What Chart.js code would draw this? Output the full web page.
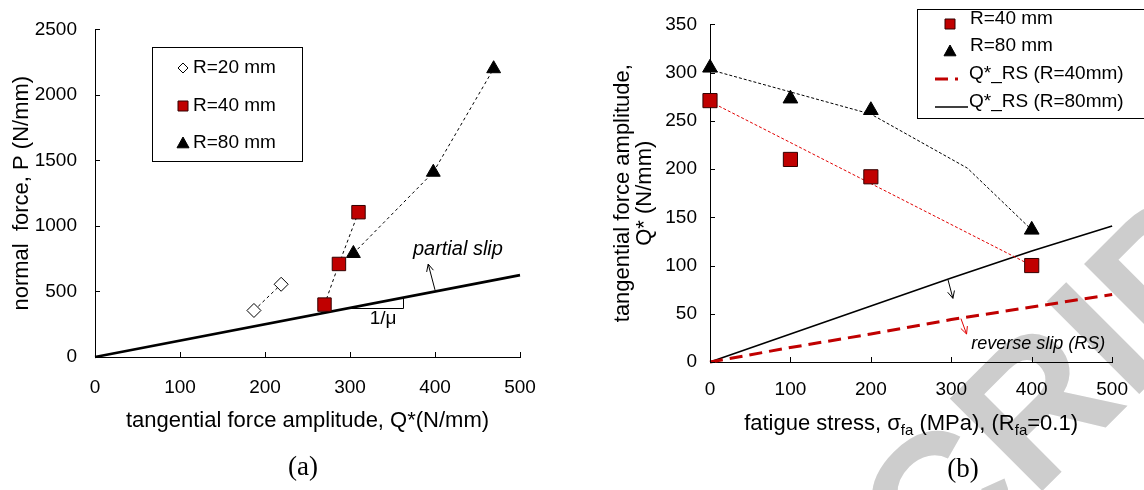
<!DOCTYPE html>
<html>
<head>
<meta charset="utf-8">
<script src="https://cdn.jsdelivr.net/npm/chart.js@4.4.0/dist/chart.umd.min.js"></script>
<style>
html, body { margin: 0; padding: 0; background: #fff; }
#wrap { position: relative; width: 1144px; height: 490px; overflow: hidden; }
#wm { position: absolute; left: 1025px; top: 395px; width: 0; height: 0; }
#wm span { position: absolute; left: 0; top: 0; white-space: nowrap; line-height: 1;
  font: bold 190px 'Liberation Sans', Arial, sans-serif; color: #cdcdcd;
  transform-origin: 0 0; transform: rotate(-45deg) translate(-10.527em, -0.5em); }
canvas { position: absolute; top: 0; }
#ca { left: 0; }
#cb { left: 580px; }
</style>
</head>
<body>
<div id="wrap">
  <div id="wm"><span>ACCEPTED MANUSCRIPT</span></div>
  <canvas id="ca" width="560" height="490"></canvas>
  <canvas id="cb" width="564" height="490"></canvas>
</div>
<script>
Chart.defaults.font.family = "'Liberation Sans', Arial, sans-serif";
Chart.defaults.font.size = 19;
Chart.defaults.color = '#000';

// (a) normal force vs tangential force amplitude
const qR20 = [187, 219];
const pR20 = [355, 555];
const qR40 = [270, 287, 310];
const pR40 = [400, 710, 1105];
const qR80 = [304, 398, 469];
const pR80 = [790, 1410, 2200];
const qSlip = [0, 500];
const pSlip = [0, 625];
const xTicksA = [0, 100, 200, 300, 400, 500];
const yTicksA = [0, 500, 1000, 1500, 2000, 2500];

// (b) tangential force amplitude vs fatigue stress
const stressB = [0, 100, 200, 400];
const qB40 = [271, 210, 192, 100];
const qB80 = [305, 273, 261, 137];
const trend40X = [0, 400];
const trend40Y = [270, 100];
const trend80X = [0, 100, 200, 320, 400];
const trend80Y = [303, 280, 257, 201, 137];
const rsX = [0, 100, 200, 300, 400, 500];
const rs40 = [0, 15, 29, 44, 57, 70];
const rs80 = [0, 29, 58, 87, 115, 141];
const xTicksB = [0, 100, 200, 300, 400, 500];
const yTicksB = [0, 50, 100, 150, 200, 250, 300, 350];

const RED = '#c00000';
const FONT = "'Liberation Sans', Arial, sans-serif";
const pts = (xs, ys) => xs.map((x, i) => ({x: x, y: ys[i]}));
const plain = v => String(v);

function innerTicks(ctx, x, y) {
  ctx.save();
  ctx.strokeStyle = '#000';
  ctx.lineWidth = 1;
  ctx.beginPath();
  x.ticks.forEach(t => {
    const p = Math.round(x.getPixelForValue(t.value)) + 0.5;
    ctx.moveTo(p, y.bottom);
    ctx.lineTo(p, y.bottom - 5);
  });
  y.ticks.forEach(t => {
    const p = Math.round(y.getPixelForValue(t.value)) + 0.5;
    ctx.moveTo(x.left, p);
    ctx.lineTo(x.left + 5, p);
  });
  ctx.stroke();
  ctx.restore();
}

function arrow(ctx, x1, y1, x2, y2, color) {
  const a = Math.atan2(y2 - y1, x2 - x1), h = 8, w = 0.45;
  ctx.save();
  ctx.strokeStyle = color;
  ctx.lineWidth = 1;
  ctx.beginPath();
  ctx.moveTo(x1, y1);
  ctx.lineTo(x2, y2);
  ctx.moveTo(x2 - h * Math.cos(a - w), y2 - h * Math.sin(a - w));
  ctx.lineTo(x2, y2);
  ctx.lineTo(x2 - h * Math.cos(a + w), y2 - h * Math.sin(a + w));
  ctx.stroke();
  ctx.restore();
}

function mark(ctx, kind, cx, cy, s, fill, stroke) {
  ctx.beginPath();
  if (kind === 'rect') {
    ctx.rect(cx - s, cy - s, 2 * s, 2 * s);
  } else if (kind === 'triangle') {
    ctx.moveTo(cx, cy - s);
    ctx.lineTo(cx + s, cy + s * 0.8);
    ctx.lineTo(cx - s, cy + s * 0.8);
    ctx.closePath();
  } else {
    ctx.moveTo(cx, cy - s);
    ctx.lineTo(cx + s, cy);
    ctx.lineTo(cx, cy + s);
    ctx.lineTo(cx - s, cy);
    ctx.closePath();
  }
  ctx.fillStyle = fill;
  ctx.fill();
  ctx.strokeStyle = stroke;
  ctx.lineWidth = 1;
  ctx.stroke();
}

function caption(ctx, text, x, y) {
  ctx.save();
  ctx.fillStyle = '#000';
  ctx.font = "27px 'Liberation Serif', 'Times New Roman', serif";
  ctx.textAlign = 'center';
  ctx.textBaseline = 'middle';
  ctx.fillText(text, x, y);
  ctx.restore();
}

const notesA = {
  id: 'notesA',
  afterDraw(chart) {
    const {ctx, scales: {x, y}} = chart;
    const px = v => x.getPixelForValue(v), py = v => y.getPixelForValue(v);
    innerTicks(ctx, x, y);
    ctx.save();
    ctx.strokeStyle = '#000';
    ctx.lineWidth = 1;
    ctx.beginPath();
    ctx.moveTo(px(298), Math.round(py(373)) + 0.5);
    ctx.lineTo(Math.round(px(362)) + 0.5, Math.round(py(373)) + 0.5);
    ctx.lineTo(Math.round(px(362)) + 0.5, py(452));
    ctx.stroke();
    arrow(ctx, px(400), py(512), px(392), py(709), '#000');
    ctx.fillStyle = '#000';
    ctx.textBaseline = 'middle';
    ctx.textAlign = 'center';
    ctx.font = '19px ' + FONT;
    ctx.fillText('1/μ', px(339), py(292));
    ctx.textAlign = 'left';
    ctx.font = 'italic 20px ' + FONT;
    ctx.fillText('partial slip', px(374), py(819));

    // legend
    ctx.strokeStyle = '#000';
    ctx.strokeRect(152.5, 47.5, 150, 114);
    mark(ctx, 'diamond', 183, 68, 5, '#fff', '#000');
    mark(ctx, 'rect', 183, 106, 5, RED, '#300');
    mark(ctx, 'triangle', 183, 143, 6, '#000', '#000');
    ctx.fillStyle = '#000';
    ctx.font = '19px ' + FONT;
    ctx.fillText('R=20 mm', 193, 68);
    ctx.fillText('R=40 mm', 193, 106);
    ctx.fillText('R=80 mm', 193, 143);
    ctx.restore();
    caption(ctx, '(a)', 303, 468);
  }
};

function richText(ctx, parts, cx, cy, size) {
  const sub = Math.round(size * 0.68);
  let total = 0;
  parts.forEach(p => {
    ctx.font = (p.sub ? sub : size) + 'px ' + FONT;
    total += ctx.measureText(p.t).width;
  });
  let xx = cx - total / 2;
  ctx.textAlign = 'left';
  ctx.textBaseline = 'alphabetic';
  parts.forEach(p => {
    ctx.font = (p.sub ? sub : size) + 'px ' + FONT;
    ctx.fillText(p.t, xx, cy + size * 0.36 + (p.sub ? size * 0.22 : 0));
    xx += ctx.measureText(p.t).width;
  });
}

const notesB = {
  id: 'notesB',
  afterDraw(chart) {
    const {ctx, scales: {x, y}} = chart;
    const px = v => x.getPixelForValue(v), py = v => y.getPixelForValue(v);
    innerTicks(ctx, x, y);
    arrow(ctx, px(296), py(85), px(302), py(66), '#000');
    arrow(ctx, px(312), py(45), px(319), py(29), '#e00000');
    ctx.save();
    ctx.fillStyle = '#000';
    ctx.textAlign = 'center';
    ctx.textBaseline = 'middle';
    ctx.font = 'italic 18px ' + FONT;
    ctx.fillText('reverse slip (RS)', px(408), py(19));

    richText(ctx, [
      {t: 'fatigue stress, σ'}, {t: 'fa', sub: true}, {t: ' (MPa), (R'}, {t: 'fa', sub: true}, {t: '=0.1)'}
    ], (x.left + x.right) / 2, 422, 22);

    // legend
    ctx.strokeStyle = '#000';
    ctx.lineWidth = 1;
    ctx.strokeRect(337.5, 9.5, 300, 109);
    mark(ctx, 'rect', 370, 24, 5, RED, '#300');
    mark(ctx, 'triangle', 370, 51, 6, '#000', '#000');
    ctx.beginPath();
    ctx.strokeStyle = RED;
    ctx.lineWidth = 3;
    ctx.setLineDash([13, 7]);
    ctx.moveTo(355, 79);
    ctx.lineTo(378, 79);
    ctx.stroke();
    ctx.setLineDash([]);
    ctx.beginPath();
    ctx.strokeStyle = '#000';
    ctx.lineWidth = 1.6;
    ctx.moveTo(355, 107);
    ctx.lineTo(388, 107);
    ctx.stroke();
    ctx.fillStyle = '#000';
    ctx.textAlign = 'left';
    ctx.font = '19px ' + FONT;
    ctx.fillText('R=40 mm', 390, 24);
    ctx.fillText('R=80 mm', 390, 51);
    ctx.fillText('Q*_RS (R=40mm)', 389, 79);
    ctx.fillText('Q*_RS (R=80mm)', 389, 107);
    ctx.restore();
    caption(ctx, '(b)', 383, 470);
  }
};

const axisBase = {
  type: 'linear',
  grid: {display: true, drawOnChartArea: false, drawTicks: false},
  border: {display: true, color: '#000', width: 1}
};

new Chart(document.getElementById('ca'), {
  type: 'scatter',
  data: {
    datasets: [
      {label: 'R=20 mm', data: pts(qR20, pR20), showLine: true, pointStyle: 'rectRot', pointRadius: 7,
       backgroundColor: '#fff', pointBorderColor: '#000', borderColor: '#000', borderWidth: 1, borderDash: [3, 3], pointBorderWidth: 1, clip: false},
      {label: 'R=40 mm', data: pts(qR40, pR40), showLine: true, pointStyle: 'rect', pointRadius: 9.5,
       backgroundColor: RED, pointBorderColor: '#300', borderColor: '#000', borderWidth: 1, borderDash: [3, 3], pointBorderWidth: 1, clip: false},
      {label: 'R=80 mm', data: pts(qR80, pR80), showLine: true, pointStyle: 'triangle', pointRadius: 8,
       backgroundColor: '#000', pointBorderColor: '#000', borderColor: '#000', borderWidth: 1, borderDash: [3, 3], pointBorderWidth: 1, clip: false},
      {label: 'partial slip', data: pts(qSlip, pSlip), showLine: true, pointRadius: 0,
       borderColor: '#000', borderWidth: 2.6, clip: false}
    ]
  },
  options: {
    responsive: false,
    animation: false,
    events: [],
    layout: {padding: {left: 0, right: 40, top: 15, bottom: 0}},
    plugins: {legend: {display: false}, tooltip: {enabled: false}},
    scales: {
      x: Object.assign({}, axisBase, {
        min: xTicksA[0], max: xTicksA[xTicksA.length - 1],
        ticks: {stepSize: xTicksA[1] - xTicksA[0], padding: 19, callback: plain},
        title: {display: true, text: 'tangential force amplitude, Q*(N/mm)', font: {size: 22}, padding: {top: 0, bottom: 56}},
        afterFit: s => { s.height = 133; }
      }),
      y: Object.assign({}, axisBase, {
        min: yTicksA[0], max: yTicksA[yTicksA.length - 1],
        ticks: {stepSize: yTicksA[1] - yTicksA[0], padding: 18, callback: plain},
        title: {display: true, text: 'normal  force, P (N/mm)', font: {size: 22}, padding: {top: 9, bottom: 0}},
        afterFit: s => { s.width = 95; }
      })
    }
  },
  plugins: [notesA]
});

new Chart(document.getElementById('cb'), {
  type: 'scatter',
  data: {
    datasets: [
      {label: 'R=40 mm', data: pts(stressB, qB40), pointStyle: 'rect', pointRadius: 10,
       backgroundColor: RED, borderColor: '#300', borderWidth: 1, clip: false},
      {label: 'R=80 mm', data: pts(stressB, qB80), pointStyle: 'triangle', pointRadius: 8.5,
       backgroundColor: '#000', borderColor: '#000', borderWidth: 1, clip: false},
      {label: 'trend R=40', data: pts(trend40X, trend40Y), showLine: true, pointRadius: 0,
       borderColor: '#e00000', borderWidth: 1, borderDash: [3, 2], clip: false},
      {label: 'trend R=80', data: pts(trend80X, trend80Y), showLine: true, pointRadius: 0,
       borderColor: '#000', borderWidth: 1, borderDash: [3, 2], clip: false},
      {label: 'Q*_RS (R=40mm)', data: pts(rsX, rs40), showLine: true, pointRadius: 0,
       borderColor: RED, borderWidth: 3, borderDash: [13, 7], clip: false},
      {label: 'Q*_RS (R=80mm)', data: pts(rsX, rs80), showLine: true, pointRadius: 0,
       borderColor: '#000', borderWidth: 1.6, clip: false}
    ]
  },
  options: {
    responsive: false,
    animation: false,
    events: [],
    layout: {padding: {left: 0, right: 20, top: 24, bottom: 0}},
    plugins: {legend: {display: false}, tooltip: {enabled: false}},
    scales: {
      x: Object.assign({}, axisBase, {
        min: xTicksB[0], max: xTicksB[xTicksB.length - 1],
        ticks: {stepSize: xTicksB[1] - xTicksB[0], padding: 16, callback: plain},
        afterFit: s => { s.height = 128; }
      }),
      y: Object.assign({}, axisBase, {
        min: yTicksB[0], max: yTicksB[yTicksB.length - 1],
        ticks: {stepSize: yTicksB[1] - yTicksB[0], padding: 13, callback: plain},
        title: {display: true, text: ['tangential force amplitude,', 'Q* (N/mm)'], font: {size: 22, lineHeight: 1}, padding: {top: 32, bottom: 0}},
        afterFit: s => { s.width = 130; }
      })
    }
  },
  plugins: [notesB]
});
</script>
</body>
</html>
